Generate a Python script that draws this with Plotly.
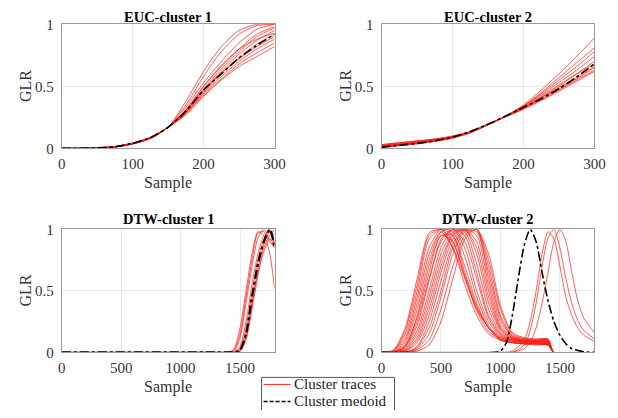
import plotly.graph_objects as go

# ---- data ----
euc_x = [0, 25, 50, 75, 100, 125, 150, 175, 200, 225, 250, 275, 300]

euc1_traces = [
    [0, 0, 0.003, 0.012, 0.035, 0.080, 0.17, 0.38, 0.62, 0.82, 0.95, 1.00, 1.00],
    [0, 0, 0.003, 0.012, 0.035, 0.080, 0.17, 0.35, 0.58, 0.78, 0.92, 0.99, 1.00],
    [0, 0, 0.003, 0.013, 0.040, 0.085, 0.17, 0.33, 0.53, 0.70, 0.85, 0.96, 1.00],
    [0, 0, 0.003, 0.012, 0.038, 0.080, 0.17, 0.31, 0.50, 0.66, 0.80, 0.92, 0.98],
    [0, 0, 0.003, 0.012, 0.038, 0.082, 0.17, 0.30, 0.47, 0.62, 0.76, 0.87, 0.95],
    [0, 0, 0.003, 0.013, 0.040, 0.085, 0.17, 0.29, 0.45, 0.60, 0.73, 0.84, 0.92],
    [0, 0, 0.004, 0.014, 0.042, 0.088, 0.17, 0.28, 0.44, 0.58, 0.70, 0.80, 0.88],
    [0, 0, 0.004, 0.014, 0.042, 0.088, 0.17, 0.28, 0.43, 0.56, 0.68, 0.77, 0.85],
    [0, 0, 0.004, 0.015, 0.043, 0.090, 0.17, 0.27, 0.42, 0.55, 0.66, 0.74, 0.82],
    [0, 0, 0.003, 0.012, 0.037, 0.082, 0.17, 0.30, 0.48, 0.64, 0.78, 0.90, 0.97],
    [0, 0, 0.003, 0.012, 0.036, 0.080, 0.17, 0.31, 0.50, 0.67, 0.80, 0.88, 0.93],
    [0, 0, 0.003, 0.013, 0.039, 0.084, 0.17, 0.29, 0.46, 0.61, 0.72, 0.82, 0.90],
]
euc1_medoid = [0, 0, 0.004, 0.013, 0.040, 0.085, 0.17, 0.30, 0.47, 0.60, 0.73, 0.83, 0.92]

euc2_traces = [
    [0.030, 0.045, 0.060, 0.075, 0.100, 0.135, 0.190, 0.26, 0.350, 0.47, 0.60, 0.74, 0.89],
    [0.025, 0.040, 0.055, 0.070, 0.095, 0.130, 0.190, 0.26, 0.340, 0.45, 0.57, 0.69, 0.81],
    [0.020, 0.035, 0.050, 0.070, 0.095, 0.135, 0.195, 0.26, 0.340, 0.44, 0.55, 0.66, 0.78],
    [0.015, 0.030, 0.045, 0.065, 0.090, 0.130, 0.190, 0.26, 0.340, 0.43, 0.53, 0.63, 0.74],
    [0.010, 0.025, 0.040, 0.060, 0.085, 0.130, 0.190, 0.26, 0.330, 0.41, 0.50, 0.60, 0.70],
    [0.005, 0.020, 0.035, 0.055, 0.080, 0.125, 0.190, 0.255, 0.320, 0.40, 0.48, 0.56, 0.65],
    [0.020, 0.035, 0.050, 0.070, 0.090, 0.130, 0.195, 0.255, 0.320, 0.39, 0.47, 0.55, 0.63],
    [0.030, 0.045, 0.060, 0.075, 0.095, 0.135, 0.195, 0.255, 0.315, 0.385, 0.46, 0.54, 0.62],
    [0.015, 0.030, 0.045, 0.065, 0.090, 0.130, 0.195, 0.26, 0.330, 0.42, 0.51, 0.60, 0.68],
    [0.010, 0.025, 0.040, 0.060, 0.085, 0.125, 0.190, 0.26, 0.330, 0.41, 0.49, 0.57, 0.66],
]
euc2_medoid = [0.010, 0.025, 0.040, 0.060, 0.090, 0.135, 0.195, 0.26, 0.330, 0.40, 0.48, 0.575, 0.68]

dtw1_x = [0, 1400, 1450, 1500, 1550, 1600, 1650, 1700, 1750, 1790]
dtw1_traces = [
    [0, 0, 0.03, 0.20, 0.50, 0.80, 0.98, 0.95, 0.80, 0.52],
    [0, 0, 0.02, 0.15, 0.45, 0.75, 0.97, 0.98, 0.90, 0.85],
    [0, 0, 0.01, 0.12, 0.40, 0.70, 0.93, 1.00, 0.92, 0.90],
    [0, 0, 0, 0.05, 0.25, 0.55, 0.80, 0.95, 0.98, 0.88],
    [0, 0, 0, 0.03, 0.20, 0.48, 0.75, 0.92, 1.00, 0.90],
    [0, 0, 0, 0.02, 0.15, 0.40, 0.68, 0.88, 0.98, 0.95],
    [0, 0, 0, 0.01, 0.10, 0.35, 0.62, 0.85, 0.95, 1.00],
    [0, 0, 0, 0.01, 0.12, 0.38, 0.65, 0.82, 0.92, 0.85],
]
dtw1_medoid = [0, 0, 0, 0.02, 0.15, 0.45, 0.72, 0.90, 1.00, 0.85]

dtw2_x = [0, 100, 200, 300, 400, 500, 600, 700, 800, 900, 1000, 1100, 1200, 1300, 1400, 1450, 1790]
dtw2_traces = [
    [0, 0.02, 0.20, 0.60, 0.97, 1.00, 0.85, 0.55, 0.30, 0.15, 0.10, 0.08, 0.07, 0.07, 0.06, 0, 0],
    [0, 0.01, 0.15, 0.50, 0.92, 1.00, 0.95, 0.70, 0.40, 0.20, 0.12, 0.09, 0.08, 0.07, 0.07, 0, 0],
    [0, 0, 0.08, 0.35, 0.75, 0.98, 1.00, 0.85, 0.50, 0.25, 0.13, 0.10, 0.08, 0.08, 0.07, 0, 0],
    [0, 0, 0.05, 0.25, 0.60, 0.90, 1.00, 0.95, 0.65, 0.30, 0.15, 0.10, 0.09, 0.08, 0.08, 0, 0],
    [0, 0, 0.02, 0.15, 0.45, 0.80, 0.98, 1.00, 0.80, 0.40, 0.18, 0.11, 0.09, 0.09, 0.08, 0, 0],
    [0, 0, 0.01, 0.10, 0.35, 0.70, 0.95, 1.00, 0.95, 0.55, 0.22, 0.12, 0.10, 0.09, 0.09, 0, 0],
    [0, 0, 0, 0.05, 0.25, 0.58, 0.88, 1.00, 1.00, 0.60, 0.25, 0.13, 0.10, 0.10, 0.10, 0, 0],
    [0, 0, 0, 0.03, 0.15, 0.45, 0.80, 0.98, 1.00, 0.70, 0.30, 0.14, 0.11, 0.10, 0.11, 0, 0],
    [0, 0, 0, 0.02, 0.10, 0.35, 0.70, 0.95, 1.00, 0.75, 0.35, 0.15, 0.11, 0.10, 0.10, 0, 0],
    [0, 0, 0.10, 0.40, 0.80, 0.98, 0.85, 0.60, 0.35, 0.20, 0.10, 0.08, 0.07, 0.06, 0.06, 0, 0],
    [0, 0, 0.05, 0.30, 0.70, 0.95, 0.95, 0.65, 0.38, 0.20, 0.10, 0.08, 0.07, 0.07, 0.06, 0, 0],
    [0, 0.01, 0.12, 0.45, 0.85, 1.00, 0.98, 0.78, 0.45, 0.22, 0.12, 0.09, 0.08, 0.07, 0.07, 0, 0],
    [0, 0, 0.04, 0.22, 0.58, 0.92, 1.00, 0.90, 0.60, 0.28, 0.14, 0.10, 0.09, 0.08, 0.08, 0, 0],
    [0, 0, 0.03, 0.18, 0.50, 0.85, 1.00, 0.98, 0.72, 0.35, 0.16, 0.11, 0.09, 0.09, 0.08, 0, 0],
    [0, 0, 0.01, 0.08, 0.30, 0.65, 0.92, 1.00, 0.90, 0.50, 0.20, 0.12, 0.10, 0.09, 0.09, 0, 0],
    [0, 0, 0, 0.04, 0.20, 0.50, 0.85, 0.99, 0.98, 0.65, 0.28, 0.13, 0.10, 0.10, 0.10, 0, 0],
    [0, 0, 0.06, 0.28, 0.65, 0.95, 0.90, 0.62, 0.36, 0.20, 0.11, 0.08, 0.07, 0.07, 0.06, 0, 0],
    [0, 0, 0.02, 0.12, 0.40, 0.75, 0.96, 1.00, 0.85, 0.45, 0.19, 0.11, 0.09, 0.09, 0.09, 0, 0],
    [0, 0, 0, 0.01, 0.06, 0.25, 0.60, 0.92, 1.00, 0.80, 0.38, 0.16, 0.12, 0.11, 0.11, 0, 0],
    [0, 0.01, 0.18, 0.55, 0.95, 1.00, 0.90, 0.62, 0.34, 0.17, 0.11, 0.08, 0.07, 0.07, 0.06, 0, 0],
]
dtw2_late_x = [0, 1000, 1100, 1200, 1250, 1300, 1350, 1400, 1450, 1500, 1550, 1600, 1650, 1700, 1790]
dtw2_late_traces = [
    [0, 0, 0.01, 0.10, 0.25, 0.50, 0.80, 0.98, 0.92, 0.70, 0.45, 0.30, 0.20, 0.14, 0.09],
    [0, 0, 0, 0.06, 0.18, 0.40, 0.70, 0.93, 1.00, 0.85, 0.60, 0.40, 0.26, 0.18, 0.11],
    [0, 0, 0, 0.03, 0.08, 0.20, 0.40, 0.65, 0.90, 1.00, 0.90, 0.65, 0.42, 0.28, 0.16],
]
dtw2_medoid_x = [0, 950, 1000, 1050, 1100, 1150, 1200, 1250, 1300, 1350, 1400, 1450, 1500, 1550, 1600, 1700, 1790]
dtw2_medoid = [0, 0, 0.01, 0.08, 0.30, 0.60, 0.87, 1.00, 0.90, 0.65, 0.42, 0.25, 0.14, 0.07, 0.03, 0.005, 0]

titles = ["EUC-cluster 1", "EUC-cluster 2", "DTW-cluster 1", "DTW-cluster 2"]
legend_labels = ["Cluster traces", "Cluster medoid"]
euc_ticks = [0, 100, 200, 300]
dtw_ticks = [0, 500, 1000, 1500]
y_ticks = [0, 0.5, 1]

# ---- layout: positions are given in window pixels (618 x 418) ----
# the html body keeps its 8px margin, so the figure itself is 16px smaller
FW, FH = 602, 402
FONT = "Liberation Serif, Times New Roman, serif"
RED = "rgb(255,30,20)"

# paper area as it lands in the window (measured on a test render)
PX0, PW = 11.3, 587.3
PY0, PH = 15.7, 385.9

# (left, right, top, bottom) in window pixels
boxes = [(61, 274, 24, 148), (381, 594, 24, 148),
         (61, 274, 229, 352), (381, 594, 229, 352)]


def px(x, y):
    return (x - PX0) / PW, 1 - (y - PY0) / PH


fig = go.Figure()


def red_lines(xs, rows, axis):
    for row in rows:
        fig.add_trace(go.Scatter(
            x=xs, y=row, mode="lines", xaxis="x" + axis, yaxis="y" + axis,
            line=dict(color=RED, width=0.8, shape="spline", smoothing=0.7),
            opacity=0.9, showlegend=False, hoverinfo="skip"))


def medoid_line(xs, ys, axis, width=1.6):
    fig.add_trace(go.Scatter(
        x=xs, y=ys, mode="lines", xaxis="x" + axis, yaxis="y" + axis,
        line=dict(color="black", width=width, dash="dashdot", shape="spline", smoothing=0.7),
        showlegend=False, hoverinfo="skip"))


red_lines(euc_x, euc1_traces, "")
medoid_line(euc_x, euc1_medoid, "")
red_lines(euc_x, euc2_traces, "2")
medoid_line(euc_x, euc2_medoid, "2")
red_lines(dtw1_x, dtw1_traces, "3")
medoid_line(dtw1_x, dtw1_medoid, "3", width=2.2)
red_lines(dtw2_x, dtw2_traces, "4")
red_lines(dtw2_late_x, dtw2_late_traces, "4")
medoid_line(dtw2_medoid_x, dtw2_medoid, "4")

axis_common = dict(showgrid=True, gridcolor="#e8e8e8", gridwidth=1, zeroline=False,
                   showline=True, linecolor="#9a9a9a", linewidth=1, mirror=True,
                   ticks="", tickfont=dict(family=FONT, size=15, color="#333333"))

layout = dict(width=FW, height=FH, margin=dict(l=0, r=0, t=0, b=0),
              paper_bgcolor="white", plot_bgcolor="white", showlegend=False,
              font=dict(family=FONT, color="#333333"))

annotations = []
for i, (l, r, t, b) in enumerate(boxes):
    suffix = "" if i == 0 else str(i + 1)
    xr = [0, 300] if i < 2 else [0, 1790]
    xt = euc_ticks if i < 2 else dtw_ticks
    x0, y1 = px(l, t)
    x1, y0 = px(r, b)
    layout["xaxis" + suffix] = dict(axis_common, domain=[x0, x1], range=xr,
                                    tickvals=xt, ticklabelstandoff=2,
                                    anchor="y" + suffix)
    layout["yaxis" + suffix] = dict(axis_common, domain=[y0, y1], range=[0, 1],
                                    tickvals=y_ticks, ticktext=["0", "0.5", "1"],
                                    ticklabelstandoff=4, anchor="x" + suffix)
    cx = (l + r) / 2
    # the top titles sit a little lower so they stay inside the page
    title_y = t - 7 if i < 2 else t - 10
    for text, (ax, ay), size, angle, col in [
        ("<b>" + titles[i] + "</b>", (cx, title_y), 14.5, 0, "black"),
        ("Sample", (cx, b + 35), 16, 0, "#333333"),
        ("GLR", (l - 36, (t + b) / 2), 16, -90, "#333333"),
    ]:
        xx, yy = px(ax, ay)
        annotations.append(dict(text=text, x=xx, y=yy, xref="paper", yref="paper",
                                showarrow=False, xanchor="center", yanchor="middle",
                                textangle=angle, font=dict(family=FONT, size=size, color=col)))

# hand-drawn legend box (MATLAB style, sitting between the bottom panels)
lx0, ly0 = px(261, 377)
lx1, ly1 = px(394, 430)
shapes = [dict(type="rect", xref="paper", yref="paper", x0=lx0, x1=lx1, y0=ly1, y1=ly0,
               line=dict(color="#555555", width=1), fillcolor="white", layer="above")]
legend_rows = [(384, RED, "solid", 1), (401, "black", "4px,2px", 1.5)]
for (ry, col, dash, w), label in zip(legend_rows, legend_labels):
    sx0, sy = px(263, ry)
    sx1, _ = px(290, ry)
    shapes.append(dict(type="line", xref="paper", yref="paper",
                       x0=sx0, x1=sx1, y0=sy, y1=sy,
                       line=dict(color=col, width=w, dash=dash), layer="above"))
    xx, yy = px(291, ry)
    annotations.append(dict(text=label, x=xx, y=yy, xref="paper", yref="paper",
                            showarrow=False, xanchor="left", yanchor="middle",
                            font=dict(family=FONT, size=15, color="#222222")))

layout["annotations"] = annotations
layout["shapes"] = shapes

fig.update_layout(**layout)
fig.write_html("out.html", config={"displayModeBar": False})
